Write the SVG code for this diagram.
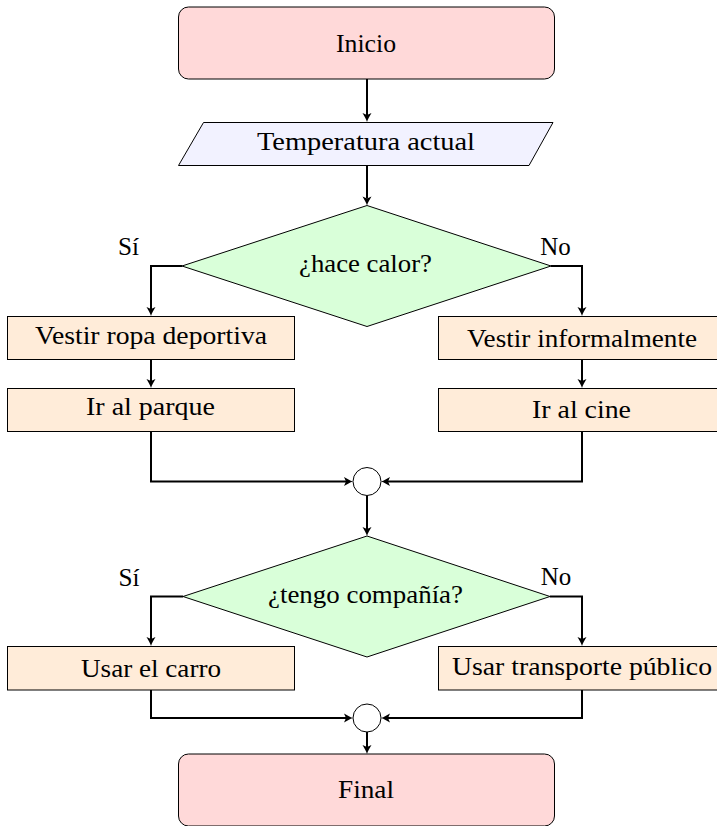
<svg xmlns="http://www.w3.org/2000/svg" width="717" height="826" viewBox="0 0 717 826">
  <style>
    text { font-family: 'Liberation Serif', 'DejaVu Serif', 'Noto Serif', serif; font-size: 25px; fill: #000; text-anchor: middle; }
    .term { fill: #ffd9d9; stroke: #000; stroke-width: 1; }
    .io { fill: #f2f2ff; stroke: #000; stroke-width: 1; }
    .dec { fill: #d9ffd9; stroke: #000; stroke-width: 1; }
    .proc { fill: #ffecd9; stroke: #000; stroke-width: 1; }
    .junc { fill: #fff; stroke: #000; stroke-width: 1; }
    .edge { fill: none; stroke: #000; stroke-width: 2; marker-end: url(#arr); }
  </style>
  <defs>
    <marker id="arr" markerUnits="userSpaceOnUse" markerWidth="14" markerHeight="14" refX="4" refY="6" orient="auto" overflow="visible">
      <path d="M11,6 C8,5.2 5,3.2 2,1.5 L4,6 L2,10.5 C5,8.8 8,6.8 11,6 Z" fill="#000"/>
    </marker>
  </defs>
  <rect width="717" height="826" fill="#fff"/>

  <g id="connectors">
    <path class="edge" d="M367,79 V115"/>
    <path class="edge" d="M367,166 V198.5"/>
    <path class="edge" d="M182,266 H151 V309"/>
    <path class="edge" d="M551,266 H582 V309"/>
    <path class="edge" d="M151,359 V381"/>
    <path class="edge" d="M582,359 V381"/>
    <path class="edge" d="M151,431 V481.5 H346"/>
    <path class="edge" d="M582,431 V481.5 H388"/>
    <path class="edge" d="M367,495.5 V529"/>
    <path class="edge" d="M183,596.5 H151 V639"/>
    <path class="edge" d="M550,596.5 H582 V639"/>
    <path class="edge" d="M151,690 V718 H346"/>
    <path class="edge" d="M582,690 V718 H388"/>
    <path class="edge" d="M367,732 V747"/>
  </g>

  <g id="inicio">
    <rect class="term" x="178.5" y="7" width="376" height="72" rx="10"/>
    <text font-family="Liberation Serif, DejaVu Serif, serif" x="366" y="52" textLength="60" lengthAdjust="spacingAndGlyphs">Inicio</text>
  </g>
  <g id="temperatura">
    <polygon class="io" points="203.5,122.5 553,122.5 529,165.5 178.5,165.5"/>
    <text font-family="Liberation Serif, DejaVu Serif, serif" x="366" y="150" textLength="218" lengthAdjust="spacingAndGlyphs">Temperatura actual</text>
  </g>
  <g id="calor">
    <polygon class="dec" points="367,205.5 551,266 367,326.5 182,266"/>
    <text font-family="Liberation Serif, DejaVu Serif, serif" x="365.5" y="272" textLength="133" lengthAdjust="spacingAndGlyphs">¿hace calor?</text>
  </g>
  <g id="label-si-1">
    <text font-family="Liberation Serif, DejaVu Serif, serif" x="128.5" y="255" textLength="21" lengthAdjust="spacingAndGlyphs">Sí</text>
  </g>
  <g id="label-no-1">
    <text font-family="Liberation Serif, DejaVu Serif, serif" x="555.5" y="255" textLength="30.5" lengthAdjust="spacingAndGlyphs">No</text>
  </g>
  <g id="deportiva">
    <rect class="proc" x="7.5" y="316.5" width="287" height="43"/>
    <text font-family="Liberation Serif, DejaVu Serif, serif" x="151" y="344" textLength="232" lengthAdjust="spacingAndGlyphs">Vestir ropa deportiva</text>
  </g>
  <g id="parque">
    <rect class="proc" x="7.5" y="388.5" width="287" height="43"/>
    <text font-family="Liberation Serif, DejaVu Serif, serif" x="150.5" y="415" textLength="129" lengthAdjust="spacingAndGlyphs">Ir al parque</text>
  </g>
  <g id="informal">
    <rect class="proc" x="438.5" y="316.5" width="288" height="43"/>
    <text font-family="Liberation Serif, DejaVu Serif, serif" x="582" y="347" textLength="230" lengthAdjust="spacingAndGlyphs">Vestir informalmente</text>
  </g>
  <g id="cine">
    <rect class="proc" x="438.5" y="388.5" width="288" height="43"/>
    <text font-family="Liberation Serif, DejaVu Serif, serif" x="581.5" y="418" textLength="99" lengthAdjust="spacingAndGlyphs">Ir al cine</text>
  </g>
  <g id="union1">
    <circle class="junc" cx="367" cy="481.5" r="14"/>
  </g>
  <g id="compania">
    <polygon class="dec" points="367,536 550,596.5 367,657 183,596.5"/>
    <text font-family="Liberation Serif, DejaVu Serif, serif" x="365.5" y="603" textLength="195" lengthAdjust="spacingAndGlyphs">¿tengo compañía?</text>
  </g>
  <g id="label-si-2">
    <text font-family="Liberation Serif, DejaVu Serif, serif" x="129" y="585.5" textLength="21" lengthAdjust="spacingAndGlyphs">Sí</text>
  </g>
  <g id="label-no-2">
    <text font-family="Liberation Serif, DejaVu Serif, serif" x="556" y="585" textLength="30.5" lengthAdjust="spacingAndGlyphs">No</text>
  </g>
  <g id="carro">
    <rect class="proc" x="7.5" y="646.5" width="287" height="43.5"/>
    <text font-family="Liberation Serif, DejaVu Serif, serif" x="151" y="677" textLength="140" lengthAdjust="spacingAndGlyphs">Usar el carro</text>
  </g>
  <g id="transporte">
    <rect class="proc" x="438.5" y="646.5" width="288" height="43.5"/>
    <text font-family="Liberation Serif, DejaVu Serif, serif" x="582" y="675" textLength="260" lengthAdjust="spacingAndGlyphs">Usar transporte público</text>
  </g>
  <g id="union2">
    <circle class="junc" cx="367" cy="718" r="14"/>
  </g>
  <g id="final">
    <rect class="term" x="178.5" y="754" width="376" height="72" rx="10"/>
    <text font-family="Liberation Serif, DejaVu Serif, serif" x="366" y="798" textLength="56" lengthAdjust="spacingAndGlyphs">Final</text>
  </g>
</svg>
